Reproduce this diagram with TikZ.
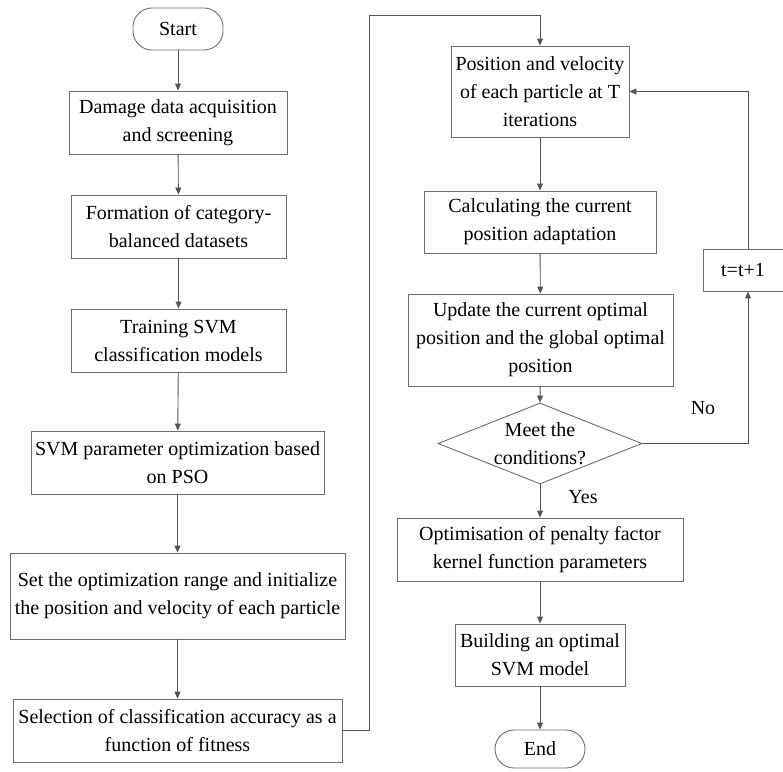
\documentclass[tikz,border=0pt]{standalone}
\usepackage{fontspec}
\setmainfont{Liberation Serif}
\usetikzlibrary{shapes.geometric,arrows.meta}
\definecolor{linegray}{RGB}{85,85,85}
\definecolor{boxgray}{RGB}{110,110,110}
\begin{document}
\begin{tikzpicture}[x=1pt,y=-1pt,
  txt/.style={font=\fontsize{20}{28}\selectfont, text=black, align=center},
  box/.style={txt, draw=boxgray, line width=0.9pt, inner sep=0pt},
  term/.style={box, rounded corners=19pt},
  arr/.style={draw=linegray, line width=0.9pt, -{Triangle[length=7pt,width=6pt]}},
  ln/.style={draw=linegray, line width=0.9pt}]
\useasboundingbox (0,0) rectangle (783,771);
% left column
\node[term, minimum width=90pt, minimum height=42pt] (start) at (178,29) {Start};
\node[box, minimum width=218pt, minimum height=63pt] (b1) at (178,122.5) {Damage data acquisition\\and screening};
\node[box, minimum width=215pt, minimum height=63pt] (b2) at (178.5,226.5) {Formation of category-\\balanced datasets};
\node[box, minimum width=215pt, minimum height=63pt] (b3) at (178.5,340.5) {Training SVM\\classification models};
\node[box, minimum width=293pt, minimum height=63pt] (b4) at (177.5,462.5) {SVM parameter optimization based\\on PSO};
\node[box, minimum width=335pt, minimum height=86pt] (b5) at (177.5,596) {Set the optimization range and initialize\\the position and velocity of each particle};
\node[box, minimum width=329pt, minimum height=63pt] (b6) at (177.5,730.5) {Selection of classification accuracy as a\\function of fitness};
% right column
\node[box, minimum width=178pt, minimum height=91pt] (r1) at (540,91.5) {Position and velocity\\of each particle at T\\iterations};
\node[box, minimum width=232pt, minimum height=62pt] (r2) at (540,222) {Calculating the current\\position adaptation};
\node[box, minimum width=265pt, minimum height=92pt] (r3) at (540.5,340) {Update the current optimal\\position and the global optimal\\position};
\node[draw=boxgray, line width=0.9pt, diamond, minimum width=204pt, minimum height=81pt, inner sep=0pt] (dia) at (540,443.5) {};
\node[txt] (diatext) at (dia.center) {Meet the\\conditions?};
\node[box, minimum width=286pt, minimum height=63pt] (r4) at (540,549.5) {Optimisation of penalty factor\\kernel function parameters};
\node[box, minimum width=170pt, minimum height=62pt] (r5) at (540,655) {Building an optimal\\SVM model};
\node[term, minimum width=90pt, minimum height=38pt] (end) at (540,749) {End};
\node[box, minimum width=80pt, minimum height=42pt] (tb) at (743,270) {t=t+1};
\node[txt] (no) at (703,408) {No};
\node[txt] (yes) at (583,497) {Yes};
% coordinates
\coordinate (cl) at (748,443.5);
\coordinate (ct) at (369,15);
% connectors
\draw[arr] (start) -- (b1);
\draw[arr] (b1) -- (b2);
\draw[arr] (b2) -- (b3);
\draw[arr] (b3) -- (b4);
\draw[arr] (b4) -- (b5);
\draw[arr] (b5.south) -- (b6.north);
\draw[arr] (b6.east) -| (ct) -| (r1.north);
\draw[arr] (r1) -- (r2);
\draw[arr] (r2) -- (r3);
\draw[arr] (r3) -- (dia.north);
\draw[arr] (dia.south) -- (r4.north);
\draw[arr] (r4) -- (r5);
\draw[arr] (r5) -- (end);
\draw[arr] (dia.east) -- (cl) -- (tb.south -| cl);
\draw[arr] (tb.north -| cl) |- (r1.east);
\end{tikzpicture}
\end{document}
